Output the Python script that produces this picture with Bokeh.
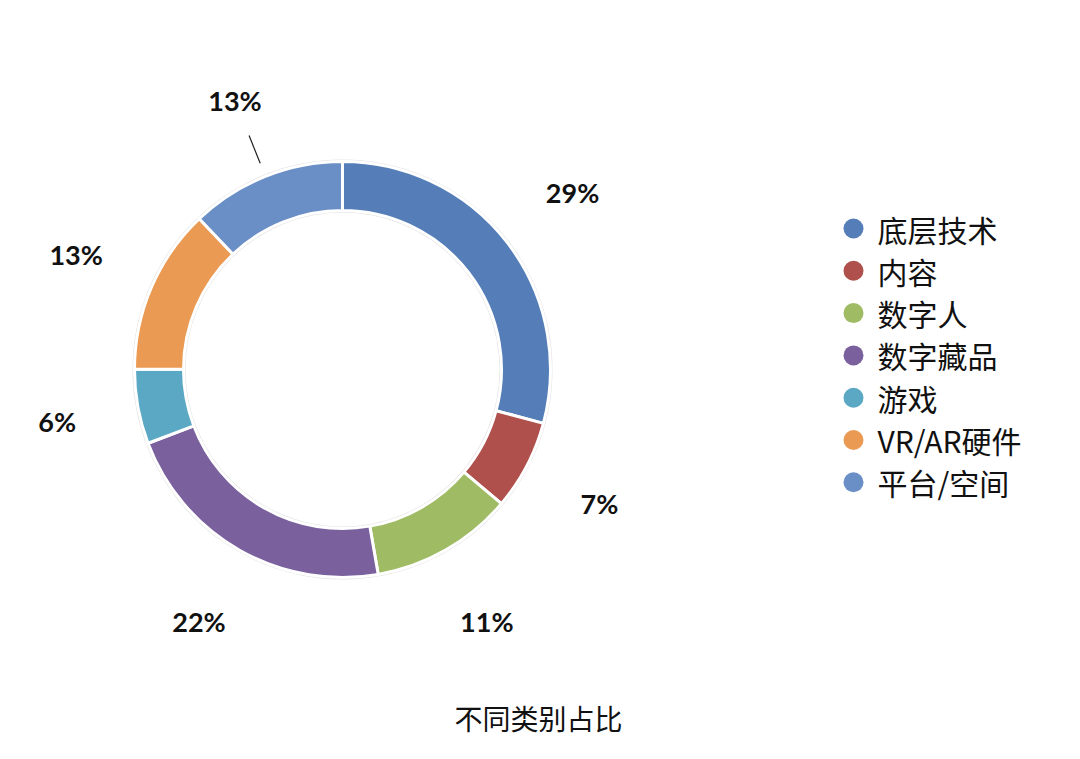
import numpy as np
from bokeh.plotting import figure
from bokeh.models import Range1d, ColumnDataSource
from bokeh.core.properties import value
from bokeh.embed import file_html
from bokeh.resources import INLINE

categories = ["底层技术", "内容", "数字人", "数字藏品", "游戏", "VR/AR硬件", "平台/空间"]
shares = [29.2, 7.0, 11.1, 22.0, 5.8, 12.9, 12.1]
labels = ["29%", "7%", "11%", "22%", "6%", "13%", "13%"]
colors = ["#557EB8", "#B0504C", "#9FBB63", "#7A619E", "#5BA8C4", "#EB9A53", "#6A8EC6"]
title = "不同类别占比"

W, H = 1064, 743
p = figure(width=W, height=H, output_backend="svg", toolbar_location=None,
           x_range=Range1d(0, W), y_range=Range1d(0, H), min_border=0)
p.axis.visible = False
p.grid.visible = False
p.outline_line_color = None
p.background_fill_color = "white"
p.border_fill_color = "white"

def sy(y):
    # screen y -> data y
    return H - y

cx, cy = 342, sy(369)
r_out, r_in = 208, 159

vals = np.array(shares, dtype=float)
total = vals.sum()
cum = np.concatenate([[0], np.cumsum(vals)])
start = np.pi / 2 - cum[:-1] / total * 2 * np.pi
end = np.pi / 2 - cum[1:] / total * 2 * np.pi
mid = (start + end) / 2

# soft shadow ring
p.annulus(x=cx, y=cy, inner_radius=r_in - 2, outer_radius=r_out + 2,
          fill_color="#E2E2E2", line_color=None)

src = ColumnDataSource(dict(start=start, end=end, color=colors))
p.annular_wedge(x=cx, y=cy, inner_radius=r_in, outer_radius=r_out,
                start_angle="start", end_angle="end", direction="clock",
                fill_color="color", line_color="white", line_width=3, source=src)

# percentage labels
r_lab = 290
lx = cx + r_lab * np.cos(mid)
ly = cy + r_lab * np.sin(mid)
p.text(x=lx, y=ly, text=labels, text_align="center", text_baseline="middle",
       text_font=value("Lato"), text_font_size="27px", text_font_style="bold",
       text_color="#111111")

# leader line for the last label
a = mid[-1]
p.segment(x0=cx + 222 * np.cos(a), y0=cy + 222 * np.sin(a),
          x1=cx + 252 * np.cos(a), y1=cy + 252 * np.sin(a),
          line_color="#222222", line_width=1.2)

# legend
n = len(categories)
leg_y = [sy(228 + 42.3 * i) for i in range(n)]
p.scatter(x=[853] * n, y=leg_y, size=20, fill_color=colors, line_color=None)
p.text(x=[877] * n, y=leg_y, text=categories, text_align="left", text_baseline="middle",
       text_font=value("Noto Sans CJK SC"), text_font_size="30px", text_color="#111111")

# title
p.text(x=[538], y=[sy(717)], text=[title], text_align="center", text_baseline="middle",
       text_font=value("Noto Sans CJK SC"), text_font_size="28px", text_color="#111111")

open("out.html", "w").write(file_html(p, INLINE))
